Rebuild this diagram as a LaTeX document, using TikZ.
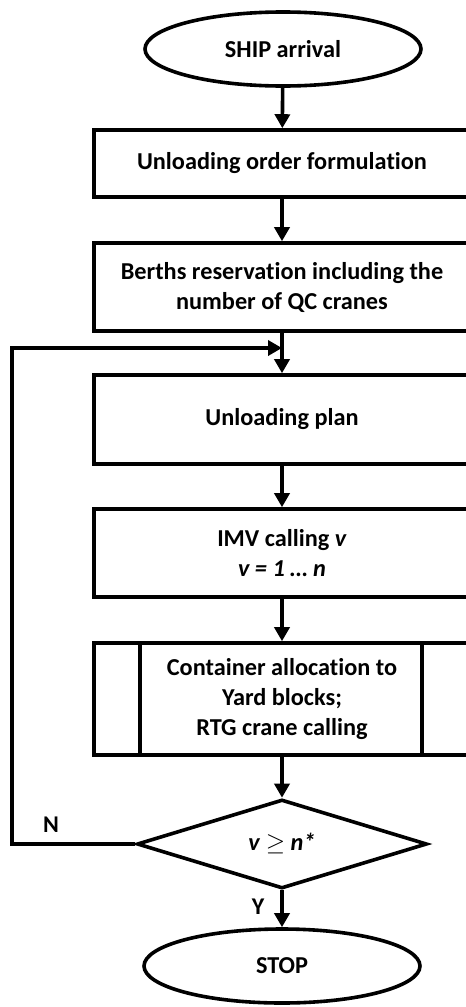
\documentclass[tikz,border=0pt]{standalone}
\usepackage{fontspec}
\setmainfont{Carlito}[Ligatures=NoCommon]
\usetikzlibrary{arrows.meta, shapes.geometric}

\tikzset{
  flow/.style={draw, line width=3.6pt, font=\fontsize{24.3}{30}\selectfont\bfseries, align=center},
  term/.style={flow, ellipse, minimum width=276pt, minimum height=74pt, inner sep=0pt},
  procbox/.style={flow, rectangle, minimum width=376pt, inner sep=0pt},
  arr/.style={line width=3.6pt, -{Triangle[length=14pt,width=15pt]}},
}

\begin{document}
\begin{tikzpicture}[x=1pt, y=-1pt]
  \useasboundingbox (0,0) rectangle (466,1007);
  \clip (0,0) rectangle (466,1007);
  % terminals and steps
  \node[term] (ship) at (283, 49) {SHIP arrival};
  \node[procbox, minimum height=67pt] (order) at (282, 163.5) {Unloading order formulation};
  \node[procbox, minimum height=88pt] (berths) at (282, 287) {Berths reservation including the\\number of QC cranes};
  \node[procbox, minimum height=89pt] (plan) at (282, 419.5) {Unloading plan};
  \node[procbox, minimum height=88pt] (imv) at (282, 553) {IMV calling \textit{v}\\\textit{v = 1 \dots\ n}};
  \node[procbox, minimum height=112pt] (alloc) at (282, 699) {Container allocation to\\Yard blocks;\\RTG crane calling};
  \draw[line width=3.6pt] ([xshift=48pt]alloc.north west) -- ([xshift=48pt]alloc.south west);
  \draw[line width=3.6pt] ([xshift=-50pt]alloc.north east) -- ([xshift=-50pt]alloc.south east);
  \node[flow, diamond, aspect=3.2, minimum width=290pt, minimum height=89pt, inner sep=0pt] (dec) at (282, 844) {\textit{v} $\geq$ \textit{n*}};
  \node[term] (stop) at (282, 966) {STOP};

  % connectors
  \draw[arr] (ship) -- (order);
  \draw[arr] (order) -- (berths);
  \draw[arr] (berths) -- (plan);
  \draw[arr] (plan) -- (imv);
  \draw[arr] (imv) -- (alloc);
  \draw[arr] (alloc) -- (dec);
  \draw[arr] (dec) -- (stop);

  % loop back
  \coordinate (back) at (12, 844);
  \coordinate (join) at (282, 348);
  \draw[arr] (dec.west) -- (back) |- (join);

  \node[font=\fontsize{24}{30}\selectfont\bfseries] (no) at (51, 825) {N};
  \node[font=\fontsize{24}{30}\selectfont\bfseries] (yes) at (258, 907) {Y};
\end{tikzpicture}
\end{document}
